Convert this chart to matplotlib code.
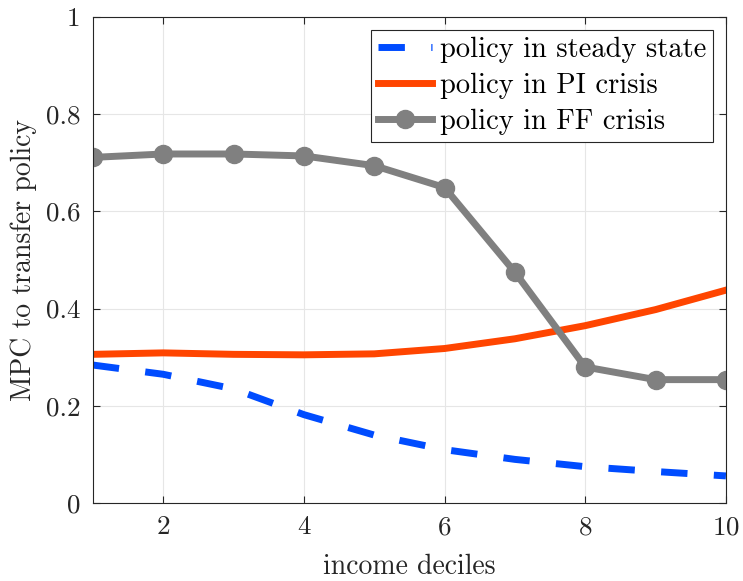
import numpy as np
import matplotlib.pyplot as plt

# MPC by income decile
deciles = np.arange(1, 11)
mpc_steady = [0.284, 0.265, 0.235, 0.182, 0.140, 0.110, 0.090, 0.075, 0.065, 0.056]
mpc_pi = [0.306, 0.309, 0.306, 0.305, 0.307, 0.318, 0.338, 0.365, 0.398, 0.438]
mpc_ff = [0.711, 0.718, 0.718, 0.714, 0.694, 0.649, 0.475, 0.280, 0.254, 0.254]

plt.rcParams['font.family'] = 'cmr10'
plt.rcParams['mathtext.fontset'] = 'cm'
plt.rcParams['axes.formatter.use_mathtext'] = True

fig = plt.figure(figsize=(7.43, 5.81), dpi=100)
ax = fig.add_axes([0.125, 0.134, 0.852, 0.837])

ax.plot(deciles, mpc_steady, color='#004CFF', lw=5, ls=(0, (3.8, 3.8)),
        label='policy in steady state')
ax.plot(deciles, mpc_pi, color='#FF4500', lw=5, label='policy in PI crisis')
ax.plot(deciles, mpc_ff, color='#808080', lw=5, marker='o', ms=13,
        label='policy in FF crisis')

ax.set_xlim(1, 10)
ax.set_ylim(0, 1)
ax.set_xticks([2, 4, 6, 8, 10])
ax.set_yticks([0, 0.2, 0.4, 0.6, 0.8, 1])
ax.set_yticklabels(['0', '0.2', '0.4', '0.6', '0.8', '1'])
ax.tick_params(direction='in', top=True, right=True, labelsize=19.5, length=5,
               color='#262626', labelcolor='#262626', pad=9)
for s in ax.spines.values():
    s.set_color('#262626')
    s.set_linewidth(0.8)
ax.grid(True, color='#e6e6e6', lw=0.8)
ax.set_axisbelow(True)

ax.set_xlabel('income deciles', fontsize=20, color='#262626', labelpad=10)
ax.set_ylabel('MPC to transfer policy', fontsize=20, color='#262626', labelpad=6)

leg = ax.legend(loc='upper right', fontsize=20.5, fancybox=False, framealpha=1,
                edgecolor='#262626', handlelength=1.9, handletextpad=0.25,
                borderpad=0.25, labelspacing=0.33, borderaxespad=0.45)
leg.get_frame().set_linewidth(0.8)

fig.savefig('out.png', dpi=100)
